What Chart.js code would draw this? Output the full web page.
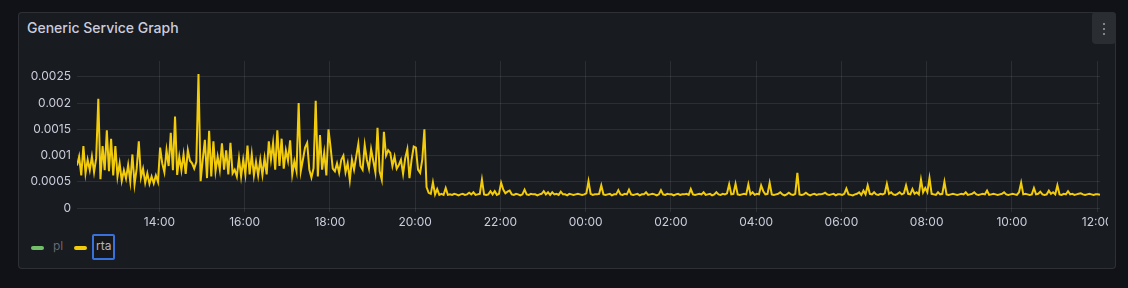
<!DOCTYPE html>
<html><head><meta charset="utf-8">
<script src="https://cdn.jsdelivr.net/npm/chart.js@4/dist/chart.umd.min.js"></script>
<style>
html,body{margin:0;padding:0;background:#111217;width:1128px;height:288px;overflow:hidden;font-family:Inter,"Noto Sans",sans-serif;}
.panel{position:absolute;left:18px;top:12px;width:1098px;height:257px;box-sizing:border-box;background:#181b1f;border:1px solid rgba(204,204,220,0.12);border-radius:4px;}
.title{position:absolute;left:27px;top:18px;font-size:14px;line-height:20px;font-weight:500;color:#ccccdc;white-space:nowrap;}
.menu{position:absolute;left:1092px;top:12px;width:24px;height:32px;background:#2a2d32;border-radius:4px;}
.dot{position:absolute;left:11px;width:2px;height:2px;background:#9fa0a5;border-radius:1px;}
#wrap{position:absolute;left:18px;top:55px;width:1090px;height:175px;overflow:hidden;}
.leg{position:absolute;top:238px;font-size:12px;line-height:16px;white-space:nowrap;}
.mark{position:absolute;width:13px;height:4px;border-radius:2px;top:246px;}
.focus{position:absolute;left:92px;top:234px;width:23px;height:26px;box-sizing:border-box;border:2px solid #3871dc;border-radius:2px;background:rgba(0,0,0,0.12);}
</style>
</head><body>
<div class="panel"></div>
<div class="title" id="title"></div>
<div class="menu"><div class="dot" style="top:11px"></div><div class="dot" style="top:16px"></div><div class="dot" style="top:21px"></div></div>
<div id="wrap"><canvas id="c" width="1090" height="175"></canvas></div>
<div id="legend"></div>
<script>
const panelTitle = 'Generic Service Graph';
const seriesNames = ['pl', 'rta'];
const seriesColors = ['#73BF69', '#F2CC0C'];
const startMinute = 12 * 60 + 4;   // 12:04
const stepMinutes = 3;
const rangeMinutes = 24 * 60;
const xTickMinutes = [840, 960, 1080, 1200, 1320, 1440, 1560, 1680, 1800, 1920, 2040, 2160];
const xTickLabels = ['14:00','16:00','18:00','20:00','22:00','00:00','02:00','04:00','06:00','08:00','10:00','12:00'];
const yTickValues = [0, 0.0005, 0.001, 0.0015, 0.002, 0.0025];
const yTickLabels = ['0', '0.0005', '0.001', '0.0015', '0.002', '0.0025'];
const yMax = 0.0028;

// rta (seconds), 3-minute samples from 12:04 until ~20:30
const rtaBefore = [
0.00081,0.00098,0.00062,0.00118,0.00066,0.00092,0.00072,0.00098,0.00068,0.00095,
0.00208,0.00055,0.00118,0.00072,0.00148,0.00070,0.00132,0.00062,0.00118,0.00060,
0.00085,0.00052,0.00072,0.00056,0.00082,0.00050,0.00102,0.00045,0.00075,0.00127,
0.00058,0.00075,0.00048,0.00066,0.00046,0.00060,0.00047,0.00062,0.00050,0.00115,
0.00085,0.00068,0.00110,0.00080,0.00143,0.00072,0.00174,0.00063,0.00098,0.00072,
0.00102,0.00065,0.00110,0.00090,
0.00085,0.00075,0.00088,0.00255,0.00051,0.00092,0.00130,0.00057,0.00147,0.00060,
0.00127,0.00070,0.00098,0.00073,0.00123,0.00073,0.00110,0.00064,0.00124,0.00066,
0.00073,0.00060,0.00095,0.00060,0.00092,0.00064,0.00119,0.00064,0.00102,0.00062,
0.00088,0.00062,0.00092,0.00063,0.00095,0.00064,0.00127,0.00092,0.00124,0.00073,
0.00148,0.00080,0.00132,0.00075,0.00110,0.00090,0.00129,0.00064,0.00089,0.00070,
0.00200,0.00070,0.00092,0.00115,
0.00124,0.00073,0.00058,0.00076,0.00204,0.00060,0.00139,0.00073,0.00105,0.00062,
0.00150,0.00115,0.00075,0.00070,0.00085,0.00067,0.00092,0.00100,0.00068,0.00085,
0.00053,0.00092,0.00073,0.00098,0.00122,0.00080,0.00073,0.00120,0.00092,0.00075,
0.00112,0.00090,0.00068,0.00153,0.00070,0.00054,0.00145,0.00100,0.00110,0.00105,
0.00080,0.00098,0.00075,0.00082,0.00092,0.00065,0.00095,0.00112,0.00057,0.00092,
0.00117,0.00115,0.00073,0.00067,0.00092,0.00150
];
// rta (seconds), continuing 3-minute samples after the drop at ~20:30
const rtaAfter = [
0.00040,0.00029,0.00027,0.00049,0.00026,0.00036,0.00025,0.00027,0.00025,0.00038,0.00025,
0.00026,0.00025,0.00027,0.00026,0.00024,0.00026,0.00027,0.00025,0.00026,0.00029,
0.00026,0.00030,0.00025,0.00026,0.00027,0.00054,0.00026,0.00025,0.00026,0.00032,
0.00026,0.00032,0.00025,0.00027,0.00048,0.00035,0.00028,0.00031,0.00033,0.00026,
0.00025,0.00027,0.00026,0.00024,0.00026,0.00035,0.00026,0.00025,0.00027,0.00026,
0.00026,0.00024,0.00026,0.00027,0.00032,0.00026,0.00030,0.00025,0.00030,0.00026,
0.00027,0.00025,0.00031,0.00026,0.00026,0.00024,0.00027,0.00026,0.00025,0.00026,
0.00027,0.00026,0.00025,0.00026,0.00028,0.00051,0.00027,0.00025,0.00026,0.00026,
0.00027,0.00043,0.00026,0.00025,0.00026,0.00027,0.00024,0.00026,0.00026,0.00034,
0.00026,0.00025,0.00027,0.00026,0.00035,0.00026,0.00025,0.00026,0.00027,0.00024,
0.00026,0.00026,0.00030,0.00025,0.00026,0.00027,0.00026,0.00024,0.00026,0.00034,
0.00026,0.00025,0.00027,0.00026,0.00026,0.00024,0.00026,0.00027,0.00025,0.00026,
0.00026,0.00027,0.00025,0.00036,0.00026,0.00025,0.00026,0.00027,0.00026,0.00030,
0.00025,0.00026,0.00027,0.00024,0.00026,0.00030,0.00026,0.00025,0.00027,0.00026,
0.00028,0.00045,0.00026,0.00027,0.00046,0.00026,0.00025,0.00026,0.00027,0.00026,
0.00045,0.00026,0.00030,0.00025,0.00027,0.00026,0.00043,0.00032,0.00026,0.00027,
0.00048,0.00026,0.00025,0.00026,0.00027,0.00030,0.00026,0.00024,0.00026,0.00029,
0.00026,0.00025,0.00027,0.00067,0.00026,0.00025,0.00026,0.00029,0.00026,0.00024,
0.00026,0.00027,0.00025,0.00026,0.00026,0.00027,0.00029,0.00026,0.00025,0.00026,
0.00027,0.00024,0.00026,0.00026,0.00025,0.00027,0.00037,0.00026,0.00025,0.00024,
0.00026,0.00027,0.00030,0.00025,0.00033,0.00026,0.00043,0.00027,0.00026,0.00030,
0.00026,0.00025,0.00027,0.00026,0.00028,0.00046,0.00027,0.00030,0.00026,0.00025,
0.00027,0.00030,0.00026,0.00028,0.00043,0.00027,0.00026,0.00036,0.00027,0.00030,
0.00026,0.00054,0.00030,0.00038,0.00030,0.00057,0.00027,0.00026,0.00025,0.00030,
0.00026,0.00027,0.00050,0.00026,0.00025,0.00026,0.00027,0.00026,0.00025,0.00026,
0.00027,0.00026,0.00030,0.00025,0.00026,0.00027,0.00030,0.00026,0.00025,0.00026,
0.00027,0.00026,0.00033,0.00025,0.00026,0.00027,0.00026,0.00025,0.00026,0.00027,
0.00030,0.00026,0.00025,0.00026,0.00027,0.00026,0.00025,0.00030,0.00048,0.00026,
0.00027,0.00026,0.00025,0.00026,0.00038,0.00026,0.00027,0.00031,0.00026,0.00025,
0.00026,0.00033,0.00027,0.00030,0.00026,0.00043,0.00026,0.00025,0.00027,0.00026,
0.00032,0.00026,0.00027,0.00025,0.00026,0.00027,0.00028,0.00026,0.00025,0.00026,
0.00027,0.00026,0.00025,0.00026,0.00026,0.00025
];

document.getElementById('title').textContent = panelTitle;

const rta = rtaBefore.concat(rtaAfter);
const points = rta.map((v, i) => ({ x: startMinute + i * stepMinutes, y: v }));

const textColor = '#ccccdc';
const gridColor = 'rgba(240,250,255,0.09)';
const tickFont = { family: 'Inter', size: 12 };

new Chart(document.getElementById('c'), {
  type: 'line',
  data: {
    datasets: [{
      label: seriesNames[1],
      data: points,
      borderColor: seriesColors[1],
      borderWidth: 2,
      pointRadius: 0,
      tension: 0,
      fill: false
    }]
  },
  options: {
    responsive: false,
    animation: false,
    devicePixelRatio: 1,
    layout: { padding: { top: 6, right: 8, left: 0, bottom: 0 } },
    plugins: { legend: { display: false }, tooltip: { enabled: false } },
    scales: {
      x: {
        type: 'linear',
        min: startMinute,
        max: startMinute + rangeMinutes,
        afterBuildTicks: s => { s.ticks = xTickMinutes.map(v => ({ value: v })); },
        afterFit: s => { s.height = 22; s.paddingLeft = 0; s.paddingRight = 0; },
        ticks: {
          callback: (v, i) => xTickLabels[i],
          color: textColor, font: tickFont, padding: 3,
          maxRotation: 0, autoSkip: false
        },
        grid: { color: gridColor, drawTicks: true, tickLength: 4, lineWidth: 1 },
        border: { display: false }
      },
      y: {
        min: 0,
        max: yMax,
        afterBuildTicks: s => { s.ticks = yTickValues.map(v => ({ value: v })); },
        afterFit: s => { s.width = 59; s.paddingTop = 0; s.paddingBottom = 0; },
        ticks: {
          callback: (v, i) => yTickLabels[i],
          color: textColor, font: tickFont, padding: 6
        },
        grid: { color: gridColor, drawTicks: false, lineWidth: 1 },
        border: { display: false }
      }
    }
  }
});

// legend
const legend = document.getElementById('legend');
const legX = [{ mark: 31, text: 53, dim: true }, { mark: 74, text: 96, dim: false }];
seriesNames.forEach((name, i) => {
  const m = document.createElement('div');
  m.className = 'mark';
  m.style.left = legX[i].mark + 'px';
  m.style.background = seriesColors[i];
  legend.appendChild(m);
  const t = document.createElement('div');
  t.className = 'leg';
  t.style.left = legX[i].text + 'px';
  t.style.color = legX[i].dim ? 'rgba(204,204,220,0.45)' : textColor;
  t.textContent = name;
  legend.appendChild(t);
});
const f = document.createElement('div');
f.className = 'focus';
legend.appendChild(f);
</script>
</body></html>
